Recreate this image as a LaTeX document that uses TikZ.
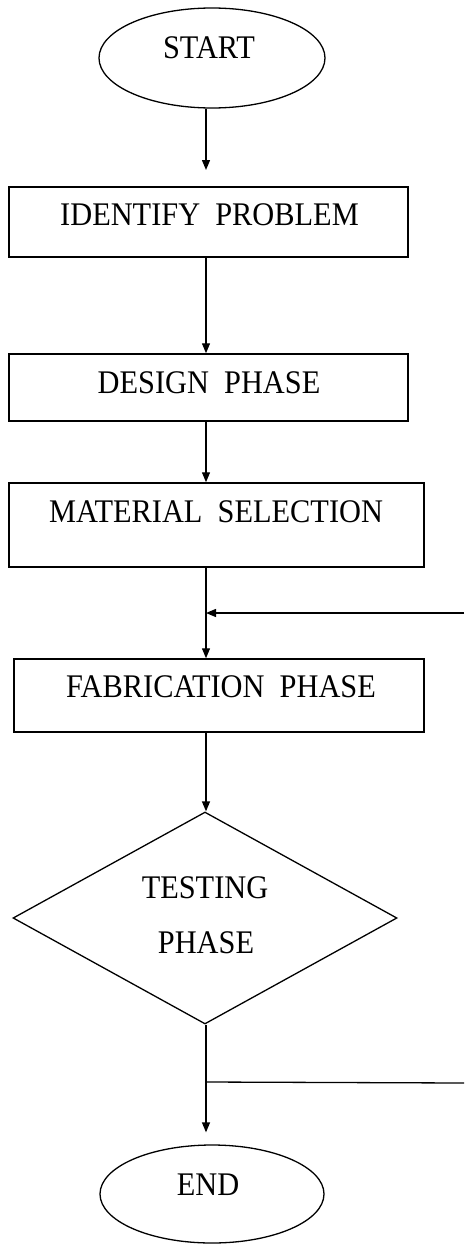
\documentclass[tikz,border=0pt]{standalone}
\usepackage{fontspec}
\setmainfont[FakeStretch=0.92]{Liberation Serif}
\usetikzlibrary{shapes.geometric,arrows.meta}
\tikzset{
  box/.style={draw, line width=1.5pt, rectangle, inner sep=0pt},
  oval/.style={draw, line width=1.3pt, ellipse, inner sep=0pt},
  dia/.style={draw, line width=1.3pt, diamond, inner sep=0pt},
  lbl/.style={inner sep=0pt, font=\fontsize{33}{36}\selectfont},
  arr/.style={line width=1.3pt, -{Triangle[length=10pt,width=8pt]}},
  ln/.style={line width=1.3pt}
}
\begin{document}
\begin{tikzpicture}[x=1pt,y=-1pt]
\useasboundingbox (0,0) rectangle (464,1244);
\coordinate (spine) at (206,0);
% shapes
\node[oval, minimum width=226pt, minimum height=100pt] (start) at (212,58) {};
\node[box, minimum width=399pt, minimum height=70pt] (idp) at (208.5,222) {};
\node[box, minimum width=399pt, minimum height=67pt] (dp) at (208.5,387.5) {};
\node[box, minimum width=415pt, minimum height=84pt] (ms) at (216.5,525) {};
\node[box, minimum width=410pt, minimum height=73pt] (fab) at (219,695.5) {};
\node[dia, minimum width=384pt, minimum height=212pt] (test) at (205,918) {};
\node[oval, minimum width=224pt, minimum height=98pt] (end) at (212,1194) {};
% texts
\node[lbl] (tstart) at (209,48) {START};
\node[lbl] (tidp) at (209.5,215) {IDENTIFY\ \ PROBLEM};
\node[lbl] (tdp) at (209,383) {DESIGN\ \ PHASE};
\node[lbl] (tms) at (216,512) {MATERIAL\ \ SELECTION};
\node[lbl] (tfab) at (221,687) {FABRICATION\ \ PHASE};
\node[lbl] (ttest1) at (205,888) {TESTING};
\node[lbl] (ttest2) at (206,943) {PHASE};
\node[lbl] (tend) at (208,1185) {END};
% connectors
\coordinate (tip1) at (206,170);
\coordinate (fbR) at (464,613);
\coordinate (fbL) at (206,613);
\coordinate (loopL) at (206,1082);
\coordinate (loopR) at (464,1083);
\draw[arr] (start.south -| spine) -- (tip1);
\draw[arr] (idp.south -| spine) -- (dp.north -| spine);
\draw[arr] (dp.south -| spine) -- (ms.north -| spine);
\draw[arr] (ms.south -| spine) -- (fab.north -| spine);
\draw[arr] (fbR) -- (fbL);
\draw[arr] (fab.south -| spine) -- (test.north -| spine);
\draw[arr] (test.south -| spine) -- ([yshift=12pt]end.north -| spine);
\draw[ln] (loopL) -- (loopR);
\end{tikzpicture}
\end{document}
